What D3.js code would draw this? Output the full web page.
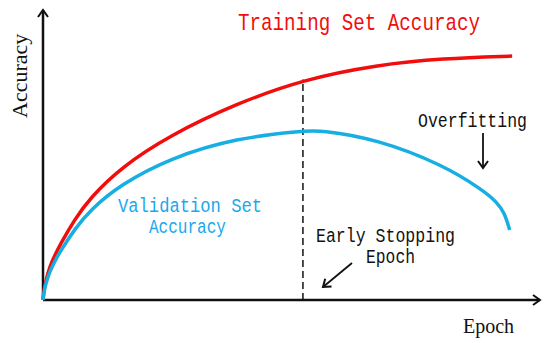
<!DOCTYPE html>
<html>
<head>
<meta charset="utf-8">
<script src="https://cdn.jsdelivr.net/npm/d3@7"></script>
<style>
  body { margin: 0; background: #fff; }
  svg { display: block; }
</style>
</head>
<body>
<div id="chart"></div>
<script>
// Epoch positions (0-100 scale) and accuracy (0-100 scale)
const trainEpochs = [0, 0.2, 0.6, 1.4, 2.4, 3.4, 6.4, 9.5, 15.5, 25.6, 39.0, 52.3, 67.2, 80.5, 94.4];
const trainAcc = [0, 3.4, 6.9, 11.7, 15.5, 19.0, 27.9, 35.2, 45.5, 56.9, 67.8, 76.0, 81.1, 83.3, 84.1];

const validEpochs = [0, 0.2, 0.6, 1.4, 2.4, 3.4, 6.4, 9.5, 15.5, 25.6, 39.0, 52.3, 55.7, 67.2, 80.5, 88.5, 91.3, 92.9, 93.9];
const validAcc = [0, 2.8, 5.9, 10.0, 13.4, 16.6, 24.5, 31.0, 39.7, 49.0, 55.9, 58.3, 58.6, 55.5, 46.6, 37.9, 33.8, 30.0, 24.1];

const earlyStopEpoch = 52.3;
const earlyStopTop = 76.0;

const width = 550;
const height = 343;

const svg = d3.select("#chart")
  .append("svg")
  .attr("width", width)
  .attr("height", height);

// Scales
const x = d3.scaleLinear().domain([0, 100]).range([43, 540]);
const y = d3.scaleLinear().domain([0, 100]).range([300, 10]);

// Arrow marker (open chevron)
svg.append("defs").append("marker")
  .attr("id", "arrow")
  .attr("viewBox", "0 0 12 12")
  .attr("refX", 10)
  .attr("refY", 6)
  .attr("markerWidth", 12)
  .attr("markerHeight", 12)
  .attr("markerUnits", "userSpaceOnUse")
  .attr("orient", "auto")
  .append("path")
  .attr("d", "M3,1 L10,6 L3,11")
  .attr("fill", "none")
  .attr("stroke", "#111")
  .attr("stroke-width", 2);

// Axes
svg.append("line")
  .attr("x1", x(0)).attr("y1", y(0))
  .attr("x2", x(100)).attr("y2", y(0))
  .attr("stroke", "#111")
  .attr("stroke-width", 2.5)
  .attr("marker-end", "url(#arrow)");

svg.append("line")
  .attr("x1", x(0)).attr("y1", y(0))
  .attr("x2", x(0)).attr("y2", y(100))
  .attr("stroke", "#111")
  .attr("stroke-width", 2.5)
  .attr("marker-end", "url(#arrow)");

// Curves
const line = d3.line()
  .x(d => x(d[0]))
  .y(d => y(d[1]))
  .curve(d3.curveBasis);

// Early stopping dashed line
svg.append("line")
  .attr("x1", x(earlyStopEpoch)).attr("y1", y(0))
  .attr("x2", x(earlyStopEpoch)).attr("y2", y(earlyStopTop))
  .attr("stroke", "#111")
  .attr("stroke-width", 1.5)
  .attr("stroke-dasharray", "7,4");

svg.append("path")
  .datum(d3.zip(trainEpochs, trainAcc))
  .attr("fill", "none")
  .attr("stroke", "#f20d0d")
  .attr("stroke-width", 3.5)
  .attr("d", line);

svg.append("path")
  .datum(d3.zip(validEpochs, validAcc))
  .attr("fill", "none")
  .attr("stroke", "#17aee2")
  .attr("stroke-width", 3.5)
  .attr("d", line);

// Labels
const mono = "'Liberation Mono', 'DejaVu Sans Mono', monospace";
const serif = "'Liberation Serif', 'DejaVu Serif', serif";

const labels = [
  { text: "Training Set Accuracy", x: 238, y: 30, len: 242, size: 24, color: "#f20d0d" },
  { text: "Overfitting", x: 418, y: 127, len: 109, size: 19.5, color: "#111" },
  { text: "Validation Set", x: 118, y: 212, len: 144, size: 19.5, color: "#1aa8ee" },
  { text: "Accuracy", x: 149, y: 233, len: 77, size: 19.5, color: "#1aa8ee" },
  { text: "Early Stopping", x: 316, y: 242, len: 139, size: 19.5, color: "#111" },
  { text: "Epoch", x: 366, y: 263, len: 49, size: 19.5, color: "#111" }
];

svg.selectAll(".label")
  .data(labels)
  .enter().append("text")
  .attr("class", "label")
  .attr("x", d => d.x)
  .attr("y", d => d.y)
  .attr("textLength", d => d.len)
  .attr("lengthAdjust", "spacingAndGlyphs")
  .attr("font-family", mono)
  .attr("font-size", d => d.size)
  .attr("fill", d => d.color)
  .text(d => d.text);

// Axis titles
svg.append("text")
  .attr("x", 463)
  .attr("y", 333)
  .attr("font-family", serif)
  .attr("font-size", 20)
  .attr("fill", "#111")
  .text("Epoch");

svg.append("text")
  .attr("transform", "translate(27,118) rotate(-90)")
  .attr("font-family", serif)
  .attr("font-size", 22)
  .attr("fill", "#111")
  .text("Accuracy");

// Annotation arrows
svg.append("line")
  .attr("x1", 483).attr("y1", 133)
  .attr("x2", 483).attr("y2", 168)
  .attr("stroke", "#111")
  .attr("stroke-width", 1.8)
  .attr("marker-end", "url(#arrow)");

svg.append("line")
  .attr("x1", 352).attr("y1", 263)
  .attr("x2", 323).attr("y2", 287)
  .attr("stroke", "#111")
  .attr("stroke-width", 1.8)
  .attr("marker-end", "url(#arrow)");
</script>
</body>
</html>
